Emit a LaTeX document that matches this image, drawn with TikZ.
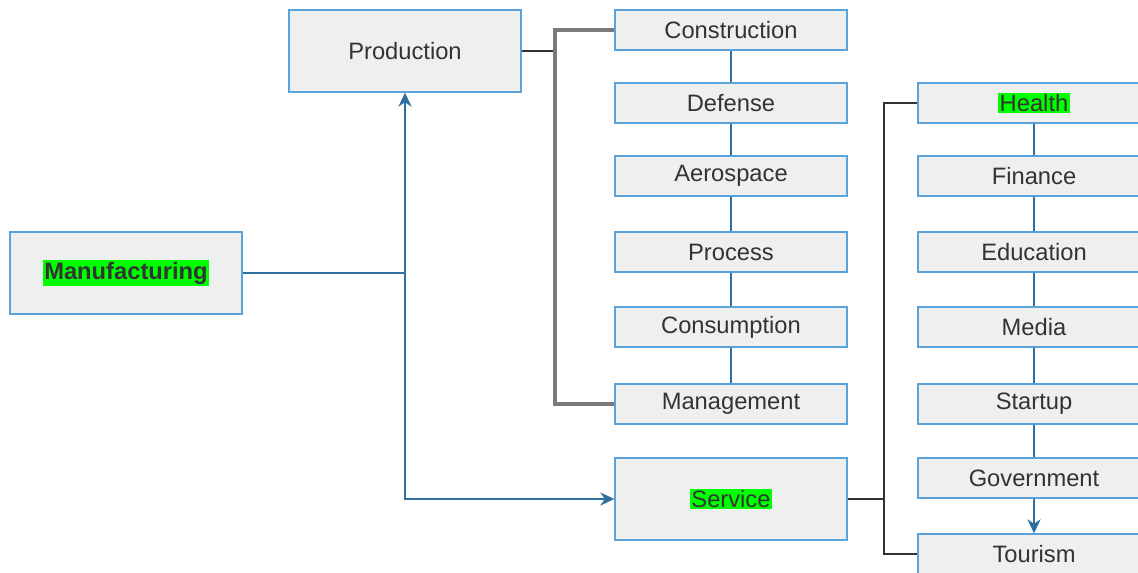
\documentclass[tikz,border=0pt]{standalone}
\usepackage{fontspec}
\setmainfont{Liberation Sans}
\usepackage{tikz}
\usetikzlibrary{positioning,arrows.meta}

\definecolor{boxfill}{HTML}{EEF0F0}
\definecolor{boxline}{HTML}{5AA2DA}
\definecolor{linkblue}{HTML}{2F6F9F}
\definecolor{forkgray}{HTML}{7A7A7A}
\definecolor{textgray}{HTML}{333333}
\definecolor{hlgreen}{HTML}{00FF00}
\newcommand{\hl}[1]{{\setlength{\fboxsep}{1pt}\colorbox{hlgreen}{#1}}}

\begin{document}
\begin{tikzpicture}[
  x=0.02cm, y=-0.02cm,
  font=\fontsize{13.5}{16}\selectfont,
  text=textgray,
  >={Stealth[length=8pt,width=7.5pt]},
  item/.style={draw=boxline, fill=boxfill, line width=0.8pt, inner sep=0pt,
               minimum width=4.64cm, minimum height=0.8cm},
  bigitem/.style={item, minimum height=1.64cm},
  link/.style={draw=linkblue, line width=0.8pt},
  arrow/.style={link, ->},
  fork/.style={draw=forkgray, line width=1.8pt},
  stem/.style={draw=textgray, line width=0.8pt},
]
\useasboundingbox (0,0) rectangle (1138,573);

% Root and second level
\node[bigitem] (manu) at (126,273) {\hl{\bfseries Manufacturing}};
\node[bigitem] (prod) at (405,51) {Production};
\node[bigitem] (serv) at (731,499) {\hl{Service}};

% Production branch
\node[item] (cons) at (731,30)  {Construction};
\node[item] (def)  at (731,103) {Defense};
\node[item] (aero) at (731,176) {Aerospace};
\node[item] (proc) at (731,252) {Process};
\node[item] (cnsm) at (731,327) {Consumption};
\node[item] (mgmt) at (731,404) {Management};

% Service branch
\node[item] (heal) at (1034,103) {\hl{Health}};
\node[item] (fin)  at (1034,176) {Finance};
\node[item] (edu)  at (1034,252) {Education};
\node[item] (med)  at (1034,327) {Media};
\node[item] (star) at (1034,404) {Startup};
\node[item] (gov)  at (1034,478) {Government};
\node[item] (tour) at (1034,554) {Tourism};

\coordinate (junc) at (405,273);
\coordinate (pfork) at (555,51);
\coordinate (sfork) at (884,499);

% Flows
\draw[link] (manu.east) -- (junc);
\draw[arrow] (junc) -- (prod.south);
\draw[arrow] (junc) |- (serv.west);

\draw[stem] (prod.east) -- (pfork);
\draw[fork] (cons.west) -| (pfork) |- (mgmt.west);
\draw[stem] (serv.east) -- (sfork);
\draw[stem] (heal.west) -| (sfork) |- (tour.west);

\draw[link] (cons) -- (def);
\draw[link] (def) -- (aero);
\draw[link] (aero) -- (proc);
\draw[link] (proc) -- (cnsm);
\draw[link] (cnsm) -- (mgmt);

\draw[link] (heal) -- (fin);
\draw[link] (fin) -- (edu);
\draw[link] (edu) -- (med);
\draw[link] (med) -- (star);
\draw[link] (star) -- (gov);
\draw[arrow] (gov) -- (tour);
\end{tikzpicture}
\end{document}
